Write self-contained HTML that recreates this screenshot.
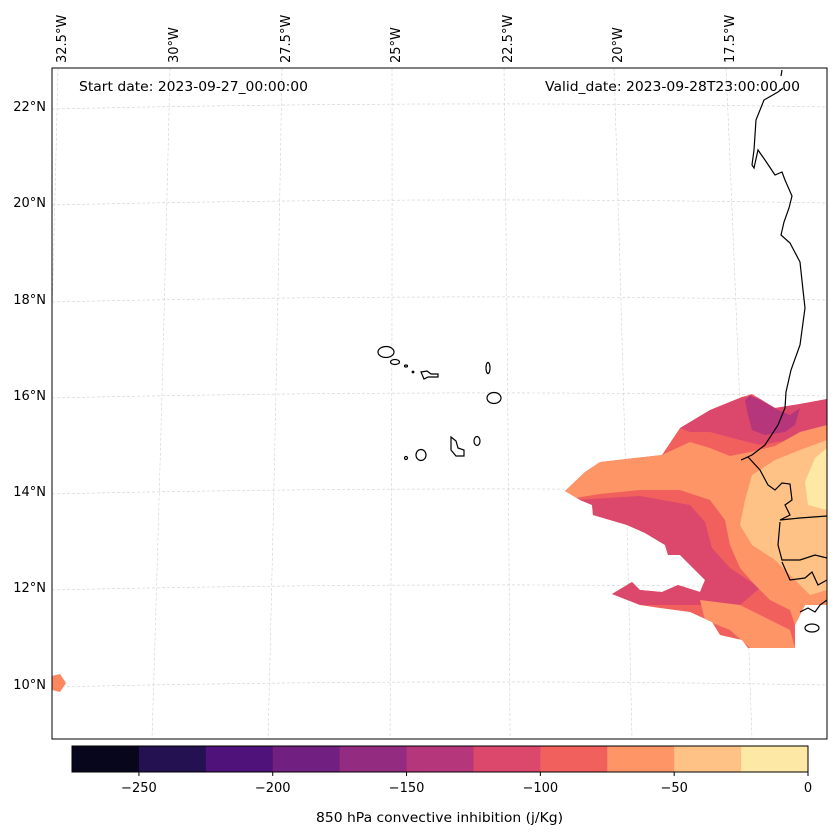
<!DOCTYPE html>
<html><head><meta charset="utf-8"><style>
body{margin:0;background:#fff;}
svg{display:block;font-family:"DejaVu Sans","Liberation Sans",sans-serif;}
</style></head><body>
<svg id="fig" width="837" height="836" viewBox="0 0 837 836">
<defs><clipPath id="mapclip"><rect x="52" y="68" width="775" height="671"/></clipPath>
<clipPath id="fieldclip"><polygon points="565,491 585,472 600,462 662,455 680,428 710,410 742,397 752,394 775,408 800,404 827,399 827,605 805,605 795,625 795,648 748,648 742,640 720,635 712,622 690,612 660,608 640,605 612,594 632,582 640,590 662,592 678,585 700,592 705,580 690,565 680,555 668,555 665,545 645,533 627,525 593,515 592,505 580,500"/></clipPath></defs>
<g id="grid" clip-path="url(#mapclip)" stroke="#d0d0d0" stroke-width="0.6" stroke-dasharray="3,2" fill="none"></g>
<g clip-path="url(#mapclip)">
 <g clip-path="url(#fieldclip)">
  <rect x="560" y="390" width="270" height="260" fill="#f1605d"/>
  <polygon fill="#dc486b" points="575,500 640,496 690,505 705,522 712,548 730,568 760,588 740,605 700,605 600,605 580,530"/>
  <polygon fill="#dc486b" points="680,428 710,410 742,397 827,399 827,440 790,440 760,445 740,440 710,432 690,432"/>
  <polygon fill="#b5367a" points="745,400 750,395 760,400 778,410 790,415 800,408 795,425 785,432 765,435 752,430 748,415"/>
  <polygon fill="#fd9567" points="560,491 585,472 600,462 662,455 690,442 710,448 730,456 750,452 775,446 800,432 827,425 827,640 795,625 790,610 770,600 755,585 740,568 730,545 725,520 710,500 680,490 640,490 600,494 575,498"/>
  <polygon fill="#fd9567" points="700,600 740,605 760,615 790,630 795,648 750,648 730,630 705,620"/>
  <polygon fill="#fec287" points="745,500 752,475 775,460 800,450 827,440 827,590 810,595 795,580 775,560 752,545 740,525"/>
  <polygon fill="#fde8a5" points="805,482 815,458 827,448 827,510 808,505"/>
 </g>
 <polygon fill="#fb8761" points="52,676 60,674 66,683 60,692 52,690"/>
</g>
<g clip-path="url(#mapclip)" fill="none" stroke="#000" stroke-width="1.2">
 <polyline points="782,70 781,76"/>
 <polyline points="783,88 778,92 764,100 756,120 754,150 752,165 754,168 758,150 765,160 775,175 782,172 785,180 792,196 789,208 784,222 781,235 790,243 800,262 803,290 805,308 800,345 791,370 786,392 785,408 778,425 765,445 752,455 741,460 748,457 760,470 768,485 775,490 782,483 790,484 792,500 785,505 790,515 780,520 800,518 827,516"/>
 <polyline points="780,522 778,545 782,560 800,560 815,555 827,558"/>
 <polyline points="782,562 790,580 805,578 812,572 818,585 827,580"/>
 <polyline points="800,612 808,608 815,612 820,605 827,600"/>
 <ellipse cx="812" cy="628" rx="7" ry="4"/>
 <ellipse cx="386" cy="352" rx="8" ry="5.5"/>
 <ellipse cx="395" cy="362" rx="4.5" ry="2.5"/>
 <ellipse cx="406" cy="366" rx="1.5" ry="1"/>
 <ellipse cx="413" cy="372" rx="0.8" ry="0.8"/>
 <path d="M421,372 L427,371 L431,374 L438,374 L438,377 L428,377 L424,379 Z"/>
 <ellipse cx="488" cy="368" rx="2" ry="5.5"/>
 <ellipse cx="494" cy="398" rx="7" ry="5.5"/>
 <path d="M451,437 L456,441 L458,448 L464,450 L464,456 L456,456 L451,450 Z"/>
 <ellipse cx="477" cy="441" rx="3" ry="4.5"/>
 <ellipse cx="421" cy="455" rx="5" ry="5.5"/>
 <ellipse cx="406" cy="458" rx="1.5" ry="1.5"/>
</g>
<rect x="52" y="68" width="775" height="671" fill="none" stroke="#000" stroke-width="1"/>
<text x="79" y="91" font-size="13" textLength="229" lengthAdjust="spacingAndGlyphs">Start date: 2023-09-27_00:00:00</text>
<text x="545" y="91" font-size="13" textLength="255" lengthAdjust="spacingAndGlyphs">Valid_date: 2023-09-28T23:00:00.00</text>
<g id="lonlabels" font-size="13"></g>
<g id="latlabels" font-size="13" text-anchor="end"></g>
<g id="cbar"></g>
<text x="316" y="822" font-size="13" textLength="247" lengthAdjust="spacingAndGlyphs">850 hPa convective inhibition (j/Kg)</text>
</svg>
<script>
const cbarBounds = [-275,-250,-225,-200,-175,-150,-125,-100,-75,-50,-25,0];
const cbarColors = ["#07061c","#231151","#4f127b","#711f81","#932b80","#b5367a","#dc486b","#f1605d","#fd9567","#fec287","#fde8a5"];
const cbarTicks = [-250,-200,-150,-100,-50,0];
const lonTicks = ["32.5°W","30°W","27.5°W","25°W","22.5°W","20°W","17.5°W"];
const lonTop = [61,173,285,395,507,617,729];
const lonBottom = [40,152,268,390,510,632,752];
const latTicks = ["22°N","20°N","18°N","16°N","14°N","12°N","10°N"];
const latY = [106,202,299,395,491,587,684];
const NS="http://www.w3.org/2000/svg";
function mk(t,a){const e=document.createElementNS(NS,t);for(const k in a)e.setAttribute(k,a[k]);return e;}
const grid=document.getElementById('grid');
lonTop.forEach((x,i)=>{const l=mk('path',{d:`M${x-3},68 Q${(x+lonBottom[i])/2},400 ${lonBottom[i]},739`});


grid.appendChild(l);});
latY.forEach(y=>{const l=mk('path',{d:`M52,${y+3} Q440,${y-6} 827,${y+1}`});


grid.appendChild(l);});
const lg=document.getElementById('lonlabels');
lonTicks.forEach((s,i)=>{const t=mk('text',{transform:`translate(${lonTop[i]+5},63) rotate(-90)`});t.textContent=s;


lg.appendChild(t);});
const la=document.getElementById('latlabels');
latTicks.forEach((s,i)=>{const t=mk('text',{x:46,y:latY[i]+5});t.textContent=s;


la.appendChild(t);});
const cb=document.getElementById('cbar');
const cx0=72,cx1=808,cy=746,ch=26;
const sx=v=>cx0+(v-cbarBounds[0])/(cbarBounds[cbarBounds.length-1]-cbarBounds[0])*(cx1-cx0);
for(let i=0;i<cbarBounds.length-1;i++){const r=mk('rect',{x:sx(cbarBounds[i]),y:cy,width:sx(cbarBounds[i+1])-sx(cbarBounds[i])+0.5,height:ch,fill:cbarColors[i]});


cb.appendChild(r);}
const fr=mk('rect',{x:cx0,y:cy,width:cx1-cx0,height:ch,fill:'none',stroke:'#000','stroke-width':1});


cb.appendChild(fr);
cbarTicks.forEach(v=>{const x=sx(v);
const tk=mk('line',{x1:x,x2:x,y1:cy+ch,y2:cy+ch+4,stroke:'#000'});


cb.appendChild(tk);
const t=mk('text',{x:x,y:cy+ch+20,'font-size':13,'text-anchor':'middle'});t.textContent=(v<0?'\u2212'+(-v):String(v));


cb.appendChild(t);});
</script>
</body></html>
